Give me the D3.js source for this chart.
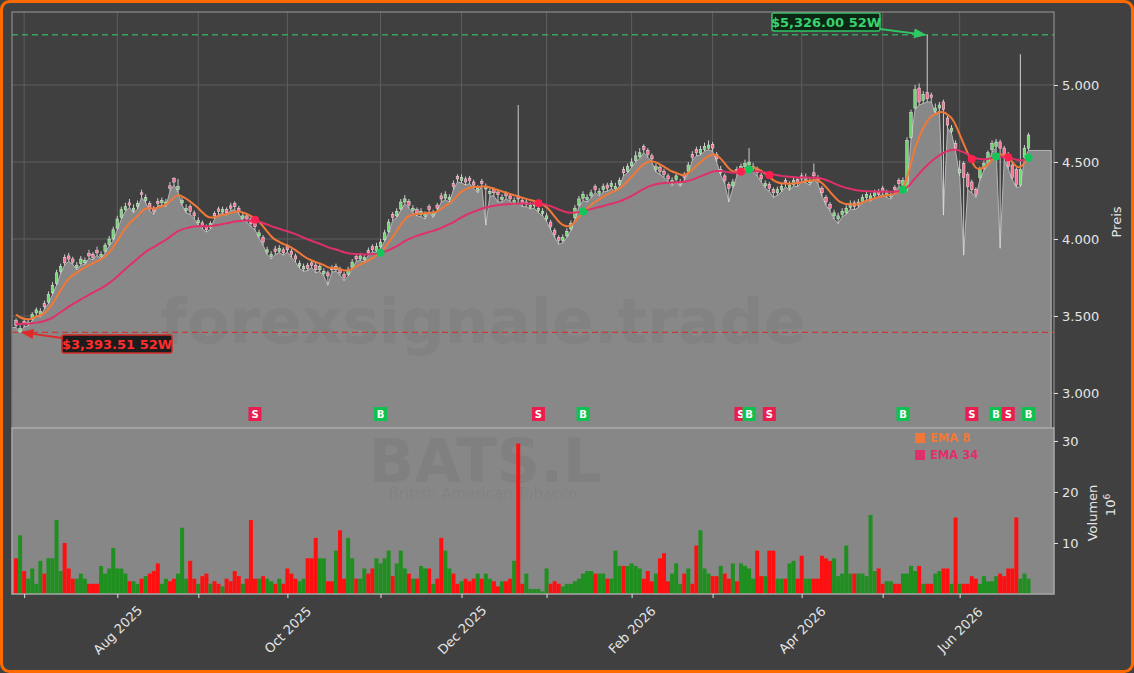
<!DOCTYPE html>
<html>
<head>
<meta charset="utf-8">
<script src="https://cdn.jsdelivr.net/npm/d3@7"></script>
<style>
  body { margin: 0; background: #404040; }
  svg { display: block; font-family: "DejaVu Sans", sans-serif; }
</style>
</head>
<body>
<div></div>
<script>
// trading days: first day and UK market holidays
const firstDay = "2025-06-27";
const holidays = ["2025-08-25", "2025-12-25", "2025-12-26", "2026-01-01", "2026-04-03", "2026-04-06", "2026-05-04", "2026-05-25"];

const opens = [3470,3400,3465,3445,3480,3520,3510,3580,3590,3650,3710,3790,3880,3890,3870,3815,3840,3845,3905,3900,
  3925,3885,3920,3965,4000,4070,4140,4190,4235,4185,4210,4300,4250,4230,4200,4245,4235,4225,4345,4395,
  4320,4235,4185,4210,4170,4105,4105,4080,4075,4165,4195,4175,4190,4215,4230,4200,4135,4150,4130,4100,
  4020,4010,3915,3885,3935,3920,3930,3950,3920,3890,3825,3805,3830,3845,3830,3800,3775,3780,3815,3800,
  3805,3770,3770,3815,3885,3870,3865,3925,3950,3925,3950,3995,4050,4160,4150,4195,4240,4245,4185,4190,
  4160,4145,4210,4155,4220,4280,4265,4255,4360,4405,4380,4390,4395,4370,4315,4375,4325,4295,4320,4305,
  4255,4295,4280,4230,4280,4250,4225,4205,4215,4185,4165,4130,4110,4055,4010,3990,4020,4065,4140,4220,
  4265,4255,4280,4340,4295,4320,4350,4340,4325,4355,4450,4440,4475,4510,4535,4600,4575,4540,4450,4465,
  4440,4410,4360,4385,4355,4420,4440,4550,4580,4555,4580,4590,4615,4550,4430,4410,4355,4345,4450,4445,
  4470,4480,4455,4455,4415,4345,4355,4320,4300,4320,4380,4330,4355,4385,4410,4380,4365,4430,4400,4330,
  4270,4225,4150,4130,4160,4170,4205,4235,4220,4245,4270,4260,4280,4310,4330,4285,4275,4335,4380,4350,
  4330,4660,4850,4980,4900,4950,4935,4830,4850,4890,4785,4700,4620,4430,4490,4420,4370,4320,4400,4460,
  4490,4580,4600,4630,4590,4550,4480,4450,4350,4530,4590];
const highs = [3485,3440,3480,3475,3525,3555,3550,3600,3660,3720,3800,3840,3900,3910,3885,3850,3890,3880,3930,3915,
  3950,3920,3975,4020,4080,4150,4210,4235,4260,4225,4250,4320,4290,4245,4215,4265,4270,4260,4370,4400,
  4390,4275,4225,4225,4185,4140,4120,4095,4115,4180,4210,4210,4205,4235,4245,4215,4170,4165,4145,4115,
  4060,4025,3950,3920,3955,3960,3945,3965,3935,3905,3860,3840,3845,3860,3845,3840,3810,3795,3830,3840,
  3820,3785,3820,3870,3900,3910,3900,3945,3965,3975,4000,4060,4130,4175,4200,4260,4285,4260,4220,4205,
  4200,4180,4225,4190,4235,4300,4310,4290,4380,4420,4420,4405,4410,4385,4350,4390,4360,4330,4335,4320,
  4290,4310,4295,4270,4870,4265,4260,4240,4250,4220,4200,4170,4125,4070,4025,4030,4070,4120,4220,4280,
  4310,4290,4320,4355,4330,4360,4365,4380,4365,4400,4470,4490,4525,4570,4590,4615,4590,4555,4490,4480,
  4455,4425,4400,4430,4390,4435,4500,4570,4600,4605,4625,4640,4630,4565,4475,4425,4370,4390,4470,4490,
  4515,4590,4495,4470,4430,4380,4370,4335,4340,4360,4395,4375,4400,4400,4430,4425,4400,4490,4415,4345,
  4285,4240,4190,4170,4200,4220,4250,4250,4260,4290,4310,4300,4320,4325,4345,4320,4310,4350,4395,4400,
  4660,4840,5000,5010,4960,5326,4950,4880,4890,4905,4800,4740,4640,4510,4505,4435,4385,4335,4470,4510,
  4575,4640,4650,4645,4605,4565,4495,4465,5200,4610,4690];
const lows = [3425,3393,3430,3435,3470,3505,3495,3545,3580,3640,3700,3775,3830,3855,3835,3800,3830,3835,3875,3865,
  3895,3870,3910,3955,3990,4060,4130,4180,4205,4170,4195,4270,4235,4185,4160,4215,4220,4210,4310,4350,
  4305,4220,4170,4160,4130,4090,4065,4045,4065,4130,4160,4165,4155,4185,4190,4165,4120,4110,4080,4060,
  4005,3960,3900,3870,3900,3910,3895,3915,3880,3850,3810,3790,3795,3815,3780,3790,3760,3700,3785,3790,
  3765,3730,3760,3805,3855,3860,3850,3895,3915,3915,3940,3985,4040,4120,4140,4185,4230,4200,4170,4150,
  4145,4130,4175,4140,4185,4240,4255,4240,4320,4370,4365,4350,4360,4330,4300,4340,4090,4280,4280,4240,
  4240,4260,4245,4220,4240,4210,4210,4195,4200,4170,4150,4115,4060,4010,3965,3975,4010,4055,4130,4210,
  4250,4240,4265,4300,4280,4305,4310,4325,4310,4345,4410,4430,4465,4500,4525,4560,4530,4500,4435,4420,
  4400,4370,4345,4370,4340,4380,4430,4510,4540,4545,4570,4580,4570,4500,4415,4360,4240,4330,4410,4435,
  4455,4465,4440,4410,4370,4330,4310,4270,4285,4305,4340,4315,4345,4340,4370,4365,4350,4390,4360,4280,
  4220,4180,4130,4100,4145,4160,4195,4190,4205,4235,4255,4245,4265,4275,4290,4270,4260,4300,4340,4330,
  4310,4650,4840,4870,4880,4890,4890,4815,4830,4155,4720,4685,4570,4410,3895,4320,4300,4270,4385,4445,
  4480,4565,4590,3940,4515,4455,4385,4335,4340,4520,4575];
const closes = [3440,3420,3450,3460,3510,3540,3530,3560,3640,3700,3780,3820,3845,3870,3850,3830,3870,3860,3890,3880,
  3910,3900,3960,4000,4060,4130,4190,4210,4220,4200,4230,4290,4270,4200,4180,4230,4250,4240,4330,4370,
  4340,4250,4200,4180,4150,4120,4080,4060,4100,4150,4180,4190,4170,4200,4210,4180,4150,4130,4100,4080,
  4040,3980,3930,3900,3920,3940,3910,3930,3900,3870,3840,3820,3810,3830,3800,3820,3790,3760,3800,3820,
  3780,3750,3800,3850,3870,3890,3880,3910,3930,3950,3980,4040,4110,4140,4180,4240,4260,4220,4200,4170,
  4180,4160,4190,4170,4200,4260,4290,4270,4340,4390,4400,4370,4380,4350,4330,4360,4340,4310,4300,4290,
  4270,4280,4260,4250,4260,4230,4240,4220,4230,4200,4180,4150,4080,4030,3990,4010,4050,4100,4200,4260,
  4290,4270,4300,4320,4310,4340,4330,4360,4340,4380,4430,4470,4500,4540,4560,4580,4550,4520,4470,4440,
  4420,4390,4380,4410,4370,4400,4480,4530,4560,4580,4600,4610,4590,4520,4450,4380,4330,4370,4430,4470,
  4490,4500,4470,4430,4390,4360,4330,4300,4320,4340,4360,4350,4380,4360,4390,4400,4380,4410,4380,4300,
  4240,4200,4170,4150,4180,4200,4230,4210,4240,4270,4290,4280,4300,4290,4310,4300,4290,4320,4360,4380,
  4640,4820,4970,4890,4940,4910,4920,4850,4870,4840,4740,4720,4590,4450,4400,4340,4320,4290,4450,4490,
  4560,4620,4630,4590,4530,4470,4400,4350,4450,4590,4675];
// volume in millions
const volumes = [7,11.5,4.5,3,5,2,6.5,4,7,7, 14.5,4.5,10,5,3,3,4,3,2,2,
  2,5.5,4,5,9,5,5,4,2.5,2.5, 2,3,3.5,4,4.5,6,2,3,2.5,3,
  4,13,3,6.5,3,2,3.5,4,2,2.5, 2,1.5,3,2.5,4.5,3.5,2,3,14.5,3,
  3,3.5,3,2.5,2,3,2,5,4,3, 2.5,3,7,7,11,7,7,2.5,2.5,8.5,
  12.5,3,11,7,3,3,5,4,5,7, 6,7,8.5,3.5,6,8.5,5,4,3,3,
  5.5,5,5,2,3,11,8.5,5,4,2, 2.5,3,2.5,3,4,3,4,3,2.5,1.5,
  2.5,2.5,3,6.5,29.5,2,4,1,1,1, 0.5,5,2,2.5,2,1.5,2,2,2.5,3,
  4,4.5,4.5,4,4,4,3,3,8.5,5.5, 5.5,5.5,6,5.5,5,3,4.5,2.5,4,7,
  8,2.5,4,6,2,4,5,2,9.5,12.5, 5,4,3.5,3.5,5.5,4,3,6,2.5,6,
  5.5,5,3,8.5,3.5,3.5,8.5,8.5,3,3, 3,6,6.5,3,7.5,3,3,3,3,7.5,
  7,6.5,7,3.5,4,9.5,4,4,4,4, 3.5,15.5,4.5,5,2,2.5,2.5,2,2,4,
  4,5.5,4.5,5.5,2,2,2,4,4.5,5, 5,2,15,2,2,2,3.5,3,2,3.5,
  2.5,2.5,3.5,4,3.5,5,5,15,3,4, 3];

// EMA start values
const emaPeriods = [8, 34];
const emaSeeds = [3530, 3450];
const emaColors = ["#f07838", "#e0306a"];
const emaLabels = ["EMA 8", "EMA 34"];

const signalIdx = [59, 90, 129, 140, 179, 181, 186, 219, 236, 242, 245, 250];
const signalType = ["S", "B", "S", "B", "S", "B", "S", "B", "S", "B", "S", "B"];

const high52 = 5326.0;
const low52 = 3393.51;
const high52Idx = 225;
const low52Idx = 1;

const priceTicks = [3000, 3500, 4000, 4500, 5000];
const volTicks = [10, 20, 30];

// ---- build dates
const holidaySet = new Set(holidays);
const fmtDay = d3.timeFormat("%Y-%m-%d");
const dates = [];
let day = d3.timeParse("%Y-%m-%d")(firstDay);
while (dates.length < closes.length) {
  const wd = day.getDay();
  if (wd !== 0 && wd !== 6 && !holidaySet.has(fmtDay(day))) dates.push(day);
  day = d3.timeDay.offset(day, 1);
}

const w = 1134, h = 673;
const left = 12, right = 1054, pTop = 12, pBottom = 428, vBottom = 594;

const svg = d3.select("div").append("svg").attr("width", w).attr("height", h);

svg.append("rect").attr("x", 1.5).attr("y", 1.5).attr("width", w - 3).attr("height", h - 3)
  .attr("rx", 8).attr("fill", "#404040").attr("stroke", "#ff6a00").attr("stroke-width", 3);

const x = d3.scaleLinear().domain([-1, 256.3]).range([left, right]);
const y = d3.scaleLinear().domain([2772.7, 5474]).range([pBottom, pTop]);
const yv = d3.scaleLinear().domain([0, 30]).range([vBottom, vBottom - 153]);

// month ticks: first trading day of each month
const monthTicks = [];
dates.forEach((d, i) => {
  if (i > 0 && d.getMonth() !== dates[i - 1].getMonth()) monthTicks.push(i);
});
const fmtMonth = d3.timeFormat("%b %Y");

// panel backgrounds + grid
svg.append("rect").attr("x", left).attr("y", pTop).attr("width", right - left).attr("height", pBottom - pTop)
  .attr("fill", "#404040");
svg.append("rect").attr("x", left).attr("y", pBottom).attr("width", right - left).attr("height", vBottom - pBottom)
  .attr("fill", "#878787");

const grid = svg.append("g").attr("stroke", "#5e5e5e").attr("stroke-width", 1);
grid.selectAll(".gx").data(monthTicks).enter().append("line")
  .attr("x1", (d) => x(d)).attr("x2", (d) => x(d)).attr("y1", pTop).attr("y2", pBottom);
grid.selectAll(".gy").data(priceTicks).enter().append("line")
  .attr("x1", left).attr("x2", right).attr("y1", (d) => y(d)).attr("y2", (d) => y(d));

// area under lows
const areaData = lows.map((v, i) => [i, v]);
areaData.unshift([-0.9, lows[0]]);
areaData.push([255.6, lows[lows.length - 1]]);
svg.append("path").datum(areaData)
  .attr("d", d3.area().x((d) => x(d[0])).y0(pBottom).y1((d) => y(d[1])))
  .attr("fill", "#888888");
svg.append("path").datum(areaData)
  .attr("d", d3.line().x((d) => x(d[0])).y((d) => y(d[1])))
  .attr("fill", "none").attr("stroke", "#bdbdbd").attr("stroke-width", 0.9);
svg.append("line").attr("x1", x(255.6)).attr("x2", x(255.6)).attr("y1", y(lows[lows.length - 1])).attr("y2", pBottom)
  .attr("stroke", "#bdbdbd").attr("stroke-width", 0.9);

// watermark
svg.append("text").attr("x", 483).attr("y", 343).attr("text-anchor", "middle")
  .attr("font-size", 62).attr("font-weight", "bold").attr("fill", "rgba(40,40,40,0.06)")
  .text("forexsignale.trade");

// 52W lines
svg.append("line").attr("x1", left).attr("x2", right).attr("y1", y(high52)).attr("y2", y(high52))
  .attr("stroke", "#33a35e").attr("stroke-width", 1.4).attr("stroke-dasharray", "6,4");
svg.append("line").attr("x1", left).attr("x2", right).attr("y1", y(low52)).attr("y2", y(low52))
  .attr("stroke", "#c83a3a").attr("stroke-width", 1.4).attr("stroke-dasharray", "6,4");

// candles
const candles = svg.append("g");
const cw = 2.6;
candles.selectAll("line").data(closes).enter().append("line")
  .attr("x1", (d, i) => x(i)).attr("x2", (d, i) => x(i))
  .attr("y1", (d, i) => y(highs[i])).attr("y2", (d, i) => y(lows[i]))
  .attr("stroke", "#dcdcdc").attr("stroke-width", 0.9);
candles.selectAll("rect").data(closes).enter().append("rect")
  .attr("x", (d, i) => x(i) - cw / 2)
  .attr("y", (d, i) => y(Math.max(opens[i], d)))
  .attr("width", cw)
  .attr("height", (d, i) => Math.max(1, Math.abs(y(opens[i]) - y(d))))
  .attr("fill", (d, i) => (d >= opens[i] ? "#72d672" : "#ff6f95"))
  .attr("stroke", "#e6e6e6").attr("stroke-width", 0.5);

// EMAs
const emas = emaPeriods.map((p, k) => {
  const a = 2 / (p + 1);
  let e = emaSeeds[k];
  return closes.map((c) => (e = a * c + (1 - a) * e));
});
emas.forEach((e, k) => {
  svg.append("path").datum(e)
    .attr("d", d3.line().x((d, i) => x(i)).y((d) => y(d)).curve(d3.curveBasis))
    .attr("fill", "none").attr("stroke", emaColors[k]).attr("stroke-width", 2);
});

// signal dots + labels
svg.selectAll(".sig").data(signalIdx).enter().append("circle")
  .attr("cx", (d) => x(d)).attr("cy", (d) => y((emas[0][d] + emas[1][d]) / 2)).attr("r", 4)
  .attr("fill", (d, i) => (signalType[i] === "B" ? "#10c85a" : "#ff2050"));
const sigLab = svg.selectAll(".siglab").data(signalIdx).enter().append("g")
  .attr("transform", (d) => "translate(" + x(d) + ",414)");
sigLab.append("rect").attr("x", -6.5).attr("y", -7).attr("width", 13).attr("height", 14)
  .attr("fill", (d, i) => (signalType[i] === "B" ? "#0fc150" : "#ea1d4f"));
sigLab.append("text").attr("text-anchor", "middle").attr("y", 4).attr("font-size", 10).attr("font-weight", "bold")
  .attr("fill", "#ffffff").text((d, i) => signalType[i]);

// annotations
const defs = svg.append("defs");
[["arrG", "#2fc764"], ["arrR", "#e02a2a"]].forEach(([id, c]) => {
  defs.append("marker").attr("id", id).attr("viewBox", "0 0 10 10").attr("refX", 9).attr("refY", 5)
    .attr("markerWidth", 7).attr("markerHeight", 7).attr("orient", "auto")
    .append("path").attr("d", "M0,1 L10,5 L0,9 Z").attr("fill", c);
});
svg.append("line").attr("x1", 880).attr("y1", 29).attr("x2", x(high52Idx) - 2).attr("y2", y(high52))
  .attr("stroke", "#2fc764").attr("stroke-width", 1.8).attr("marker-end", "url(#arrG)");
svg.append("rect").attr("x", 772).attr("y", 13).attr("width", 108).attr("height", 18).attr("rx", 2)
  .attr("fill", "#0e2614").attr("stroke", "#2fc764").attr("stroke-width", 1.5);
svg.append("text").attr("x", 826).attr("y", 27).attr("text-anchor", "middle").attr("font-size", 13)
  .attr("font-weight", "bold").attr("fill", "#3ad270").text("$5,326.00 52W");

svg.append("line").attr("x1", 62).attr("y1", 338).attr("x2", x(low52Idx) + 2).attr("y2", y(low52))
  .attr("stroke", "#e02a2a").attr("stroke-width", 1.8).attr("marker-end", "url(#arrR)");
svg.append("rect").attr("x", 62).attr("y", 335).attr("width", 110).attr("height", 18).attr("rx", 2)
  .attr("fill", "#1c1c1c").attr("stroke", "#d42a2a").attr("stroke-width", 1.5);
svg.append("text").attr("x", 117).attr("y", 349).attr("text-anchor", "middle").attr("font-size", 13)
  .attr("font-weight", "bold").attr("fill", "#ff2e2e").text("$3,393.51 52W");

// volume panel watermark
svg.append("text").attr("x", 485).attr("y", 482).attr("text-anchor", "middle")
  .attr("font-size", 60).attr("font-weight", "bold").attr("fill", "rgba(40,40,40,0.07)").text("BATS.L");
svg.append("text").attr("x", 483).attr("y", 499).attr("text-anchor", "middle")
  .attr("font-size", 15).attr("fill", "rgba(40,40,40,0.07)").text("British American Tobacco");

svg.append("g").selectAll("rect").data(volumes).enter().append("rect")
  .attr("x", (d, i) => x(i) - 2).attr("width", 4)
  .attr("y", (d) => yv(d)).attr("height", (d) => vBottom - yv(d))
  .attr("fill", (d, i) => (closes[i] >= opens[i] ? "#1f8f1f" : "#ff1010"));

// legend
emaLabels.forEach((t, k) => {
  svg.append("rect").attr("x", 915).attr("y", 433 + k * 17).attr("width", 10).attr("height", 10).attr("fill", emaColors[k]);
  svg.append("text").attr("x", 930).attr("y", 442 + k * 17).attr("font-size", 11.5).attr("font-weight", "bold")
    .attr("fill", emaColors[k]).text(t);
});

// frames
svg.append("rect").attr("x", left).attr("y", pTop).attr("width", right - left).attr("height", pBottom - pTop)
  .attr("fill", "none").attr("stroke", "#9a9a9a").attr("stroke-width", 1);
svg.append("rect").attr("x", left).attr("y", pBottom).attr("width", right - left).attr("height", vBottom - pBottom)
  .attr("fill", "none").attr("stroke", "#a8a8a8").attr("stroke-width", 1.5);

// axes
const fmtDE = (v) => d3.format(",.3f")(v / 1000).replace(",", "");
const pAxis = svg.append("g").attr("transform", "translate(" + right + ",0)")
  .call(d3.axisRight(y).tickValues(priceTicks).tickSize(4).tickPadding(4).tickFormat(fmtDE));
const vAxis = svg.append("g").attr("transform", "translate(" + right + ",0)")
  .call(d3.axisRight(yv).tickValues(volTicks).tickSize(4).tickPadding(4));
const xAxis = svg.append("g").attr("transform", "translate(0," + vBottom + ")")
  .call(d3.axisBottom(x).tickValues(monthTicks).tickSize(4)
    .tickFormat((i) => (dates[i].getMonth() % 2 === 1 ? fmtMonth(dates[i]) : "")));
[pAxis, vAxis, xAxis].forEach((a) => {
  a.select(".domain").remove();
  a.selectAll("line").attr("stroke", "#e0e0e0");
  a.selectAll("text").attr("fill", "#e6e6e6").attr("font-size", 13).attr("font-family", "DejaVu Sans");
});
xAxis.selectAll("text").attr("text-anchor", "middle").attr("dy", null).attr("y", 0)
  .attr("dominant-baseline", "central")
  .attr("transform", "translate(0,36) rotate(-45)");

svg.append("text").attr("transform", "translate(1121,222) rotate(-90)").attr("text-anchor", "middle")
  .attr("font-size", 13).attr("fill", "#e6e6e6").text("Preis");
svg.append("text").attr("transform", "translate(1097,513) rotate(-90)").attr("text-anchor", "middle")
  .attr("font-size", 13).attr("fill", "#e6e6e6").text("Volumen");
const sup = svg.append("text").attr("transform", "translate(1115,505) rotate(-90)").attr("text-anchor", "middle")
  .attr("font-size", 13).attr("fill", "#e6e6e6");
sup.append("tspan").text("10");
sup.append("tspan").attr("dy", -5).attr("font-size", 9).text("6");
</script>
</body>
</html>
